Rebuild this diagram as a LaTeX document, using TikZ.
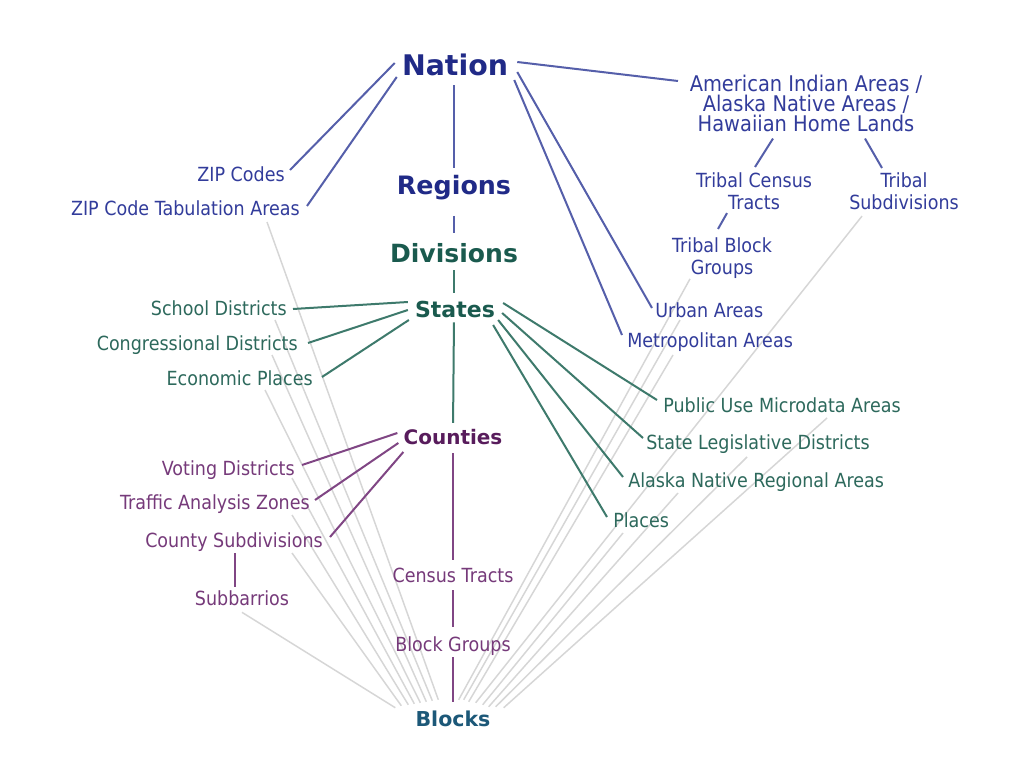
\documentclass[tikz,border=0pt]{standalone}
\usepackage{fontspec}
\setmainfont{DejaVu Sans}[FakeStretch=0.9]
\newfontfamily\headfont{DejaVu Sans}
\usetikzlibrary{positioning, calc, backgrounds}
\definecolor{nationcol}{RGB}{32,42,135}
\definecolor{nationtext}{RGB}{50,60,155}
\definecolor{nationline}{RGB}{85,95,170}
\definecolor{statecol}{RGB}{26,90,78}
\definecolor{statetext}{RGB}{45,105,92}
\definecolor{stateline}{RGB}{62,122,108}
\definecolor{countycol}{RGB}{88,28,92}
\definecolor{countytext}{RGB}{118,58,122}
\definecolor{countyline}{RGB}{128,70,132}
\definecolor{blockcol}{RGB}{28,88,120}
\definecolor{tieline}{RGB}{214,214,214}
\tikzstyle{area} = [inner sep=0pt, text height=10.6pt, text depth=0pt,
    font=\fontsize{14.6}{16.5}\selectfont]
\tikzstyle{stack} = [inner sep=0pt, align=center, font=\fontsize{14.6}{16.5}\selectfont]
\tikzstyle{tie} = [draw=tieline, line width=1.1pt]
\tikzstyle{nationlink} = [draw=nationline, line width=1.5pt]
\tikzstyle{statelink} = [draw=stateline, line width=1.5pt]
\tikzstyle{countylink} = [draw=countyline, line width=1.5pt]
\tikzset{head/.style={inner sep=0pt, text depth=0pt, text height={0.73*#1pt},
    font=\headfont\bfseries\fontsize{#1}{#1}\selectfont}}

\begin{document}
\begin{tikzpicture}[x=0.75pt, y=-0.75pt]
  \useasboundingbox (0,0) rectangle (1024,767);
   % Place nodes
    \node [head=21.3, text=nationcol] (nation) at (455,65) {Nation};
    \node [head=19, text=nationcol] (regions) at (454,185) {Regions};
    \node [head=18.8, text=statecol] (divisions) at (454,253) {Divisions};
    \node [head=16.5, text=statecol] (states) at (455,309) {States};
    \node [head=15, text=countycol] (counties) at (453,437) {Counties};
    \node [area, text=countytext] (tracts) at (453,575) {Census Tracts};
    \node [area, text=countytext] (bgroups) at (453,644) {Block Groups};
    \node [head=15.4, text=blockcol] (blocks) at (453,719) {Blocks};
   % left side
    \node [area, text=nationtext, anchor=east] (zip) at (285,174) {ZIP Codes};
    \node [area, text=nationtext, anchor=east] (zcta) at (300,208) {ZIP Code Tabulation Areas};
    \node [area, text=statetext, anchor=east] (school) at (287,308) {School Districts};
    \node [area, text=statetext, anchor=east] (congress) at (298,343) {Congressional Districts};
    \node [area, text=statetext, anchor=east] (econ) at (313,378) {Economic Places};
    \node [area, text=countytext, anchor=east] (voting) at (295,468) {Voting Districts};
    \node [area, text=countytext, anchor=east] (traffic) at (310,502) {Traffic Analysis Zones};
    \node [area, text=countytext, anchor=east] (cousub) at (323,540) {County Subdivisions};
    \node [area, text=countytext] (subbarrio) at (242,598) {Subbarrios};
   % right side
    \node [stack, text=nationtext, anchor=north, font=\fontsize{16.2}{15.3}\selectfont]
      (aian) at (806,74.5) {American Indian Areas /\\ Alaska Native Areas /\\ Hawaiian Home Lands};
    \node [stack, text=nationtext, anchor=north] (tribaltract) at (754,172.5) {Tribal Census\\Tracts};
    \node [stack, text=nationtext, anchor=north] (tribalsub) at (904,172.5) {Tribal\\Subdivisions};
    \node [stack, text=nationtext, anchor=north] (tbg) at (722,237.5) {Tribal Block\\Groups};
    \node [area, text=nationtext, anchor=west] (urban) at (655,310) {Urban Areas};
    \node [area, text=nationtext, anchor=west] (metro) at (627,340) {Metropolitan Areas};
    \node [area, text=statetext, anchor=west] (puma) at (663,405) {Public Use Microdata Areas};
    \node [area, text=statetext, anchor=west] (sld) at (646,442) {State Legislative Districts};
    \node [area, text=statetext, anchor=west] (anra) at (628,480) {Alaska Native Regional Areas};
    \node [area, text=statetext, anchor=west] (places) at (613,520) {Places};
   % Draw edges down to the blocks
    \begin{scope}[on background layer]
    \fill [white] (0,0) rectangle (1024,767);
    \draw [tie] ($(zcta.east)+(-33,14)$) -- ($(blocks.north west)+(23,-11.5)$);
    \draw [tie] ($(school.east)+(-12,12)$) -- ($(blocks.north west)+(17,-10.5)$);
    \draw [tie] ($(congress.east)+(-26,12)$) -- ($(blocks.north west)+(11,-9.5)$);
    \draw [tie] ($(econ.east)+(-48,12)$) -- ($(blocks.north west)+(5,-8.5)$);
    \draw [tie] ($(voting.east)+(-3,10)$) -- ($(blocks.north west)+(-1,-7.5)$);
    \draw [tie] ($(traffic.east)+(-18,13)$) -- ($(blocks.north west)+(-7,-6.5)$);
    \draw [tie] ($(cousub.east)+(-31,13)$) -- ($(blocks.north west)+(-14,-5.5)$);
    \draw [tie] ($(subbarrio.south)+(0,7)$) -- ($(blocks.north west)+(-20,-3.5)$);
    \draw [tie] ($(tbg.south)+(-32,0)$) -- ($(blocks.north east)+(-32,-11.5)$);
    \draw [tie] ($(urban.west)+(25,10)$) -- ($(blocks.north east)+(-27,-11.5)$);
    \draw [tie] ($(metro.west)+(46,15)$) -- ($(blocks.north east)+(-22,-9.5)$);
    \draw [tie] ($(tribalsub.south)+(-42,6)$) -- ($(blocks.north east)+(-15,-8.5)$);
    \draw [tie] ($(places.west)+(10,13)$) -- ($(blocks.north east)+(-8,-6.5)$);
    \draw [tie] ($(anra.west)+(50,13)$) -- ($(blocks.north east)+(-2,-4.5)$);
    \draw [tie] ($(sld.west)+(101,15)$) -- ($(blocks.north east)+(5,-4.5)$);
    \draw [tie] ($(puma.west)+(164,13)$) -- ($(blocks.north east)+(13,-3.5)$);
    \end{scope}
   % Draw edges of the nation
    \draw [nationlink, shorten <=7.2pt, shorten >=5.9pt] (regions.north |- nation.south) -- (regions.north);
    \draw [nationlink, shorten <=16pt, shorten >=8.1pt] (regions.south) -- (divisions.north);
    \draw [nationlink] ($(nation.west)+(-7,-2)$) -- ($(zip.east)+(5,-4)$);
    \draw [nationlink] ($(nation.west)+(-5,12)$) -- ($(zcta.east)+(7,-2)$);
    \draw [nationlink] ($(nation.east)+(9,-3)$) -- ($(aian.north west)+(-11.5,6.5)$);
    \draw [nationlink] ($(nation.east)+(9,7)$) -- ($(urban.west)+(-3,-2)$);
    \draw [nationlink] ($(nation.east)+(6,15)$) -- ($(metro.west)+(-5,-5)$);
    \draw [nationlink] ($(aian.south)+(-33,6)$) -- ($(tribaltract.north)+(1,-5.5)$);
    \draw [nationlink] ($(aian.south)+(59,6)$) -- ($(tribalsub.north)+(-22,-4.5)$);
    \draw [nationlink] ($(tribaltract.south)+(-27,3)$) -- ($(tbg.north)+(-4,-8.5)$);
   % Draw edges of the states
    \draw [statelink, shorten <=5.8pt, shorten >=6pt] (divisions.south) -- (divisions.south |- states.north);
    \draw [statelink, shorten <=3.8pt, shorten >=5pt] (divisions.south |- states.south) -- (counties.north);
    \draw [statelink] ($(states.west)+(-7,-7)$) -- ($(school.east)+(6,1)$);
    \draw [statelink] ($(states.west)+(-7,1)$) -- ($(congress.east)+(10,0)$);
    \draw [statelink] ($(states.west)+(-6,11)$) -- ($(econ.east)+(9,-1)$);
    \draw [statelink] ($(states.east)+(8,-6)$) -- ($(puma.west)+(-6,-5)$);
    \draw [statelink] ($(states.east)+(7,4)$) -- ($(sld.west)+(-3,-4)$);
    \draw [statelink] ($(states.east)+(3,11)$) -- ($(anra.west)+(-5,-3)$);
    \draw [statelink] ($(states.east)+(-2,16)$) -- ($(places.west)+(-6,-3)$);
   % Draw edges of the counties
    \draw [countylink, shorten <=6.5pt, shorten >=5.9pt] (counties.south) -- (tracts.north);
    \draw [countylink, shorten <=5.9pt, shorten >=7.4pt] (tracts.south) -- (bgroups.north);
    \draw [countylink, shorten <=4.4pt, shorten >=7.1pt] (bgroups.south) -- (blocks.north);
    \draw [countylink] ($(counties.west)+(-6,-4)$) -- ($(voting.east)+(7,-3)$);
    \draw [countylink] ($(counties.west)+(-5,6)$) -- ($(traffic.east)+(5,-2)$);
    \draw [countylink] ($(counties.west)+(0,15)$) -- ($(cousub.east)+(7,-3)$);
    \draw [countylink] ($(cousub.south)+(1,6)$) -- ($(cousub.south |- subbarrio.north)+(1,-4)$);
\end{tikzpicture}
\end{document}
